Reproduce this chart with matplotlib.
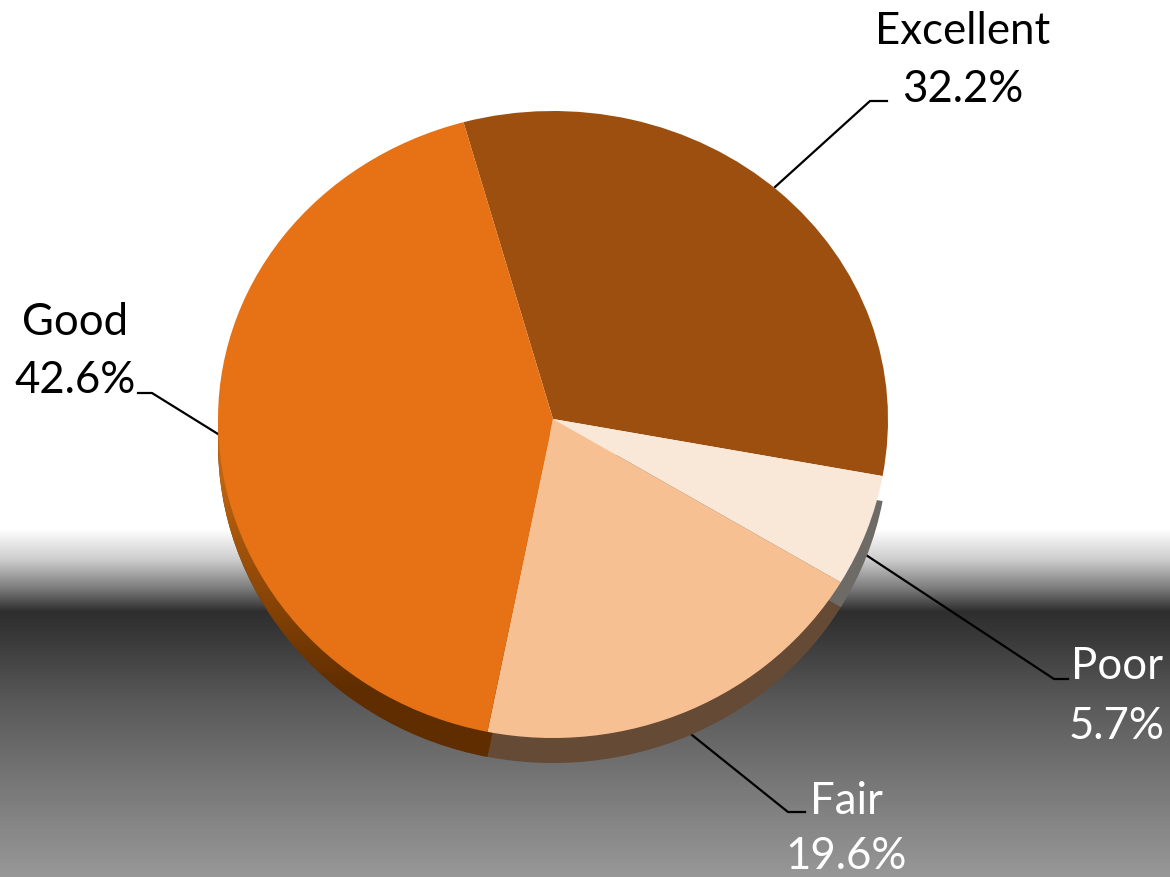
import numpy as np
import matplotlib
matplotlib.use("Agg")
import matplotlib.pyplot as plt
from matplotlib.colors import to_rgb

categories = ["Excellent", "Poor", "Fair", "Good"]
shares = [32.2, 5.7, 19.6, 42.6]
top_colors = ["#9C4F0F", "#F9E7D7", "#F7C093", "#E67215"]
side_colors = ["none", "#6E6A66", "#654A35", "#6B3200"]

W, H = 1170, 878
plt.rcParams["font.family"] = ["Lato", "DejaVu Sans"]
fig = plt.figure(figsize=(W / 100, H / 100), dpi=100)

bg = fig.add_axes([0, 0, 1, 1])
bg.set_xlim(0, W)
bg.set_ylim(H, 0)
bg.axis("off")
ys = np.arange(H)
grey = np.interp(ys, [0, 530, 560, 590, 612, 640, 700, 780, 878],
                 [255, 255, 205, 120, 46, 58, 88, 118, 152]) / 255
bg.imshow(np.dstack([grey, grey, grey]).reshape(H, 1, 3), extent=[0, W, H, 0],
          aspect="auto", interpolation="bilinear", zorder=0)
bg.set_xlim(0, W)
bg.set_ylim(H, 0)

leaders = {
    "Excellent": ([887, 870, 775], [102, 102, 188]),
    "Good": ([138, 152, 218], [394, 394, 435]),
    "Poor": ([1068, 1054, 866], [680, 680, 556]),
    "Fair": ([805, 788, 692], [813, 813, 736]),
}
label_pos = {
    "Excellent": (963, 32, 90, "black"),
    "Good": (75, 323, 381, "black"),
    "Poor": (1117, 667, 727, "white"),
    "Fair": (846, 802, 857, "white"),
}
for name, (xs_, ys_) in leaders.items():
    bg.plot(xs_, ys_, color="black", lw=1.6, zorder=1)
for name, share in zip(categories, shares):
    x, y1, y2, c = label_pos[name]
    bg.text(x, y1, name, color=c, fontsize=31.5, ha="center", va="center")
    bg.text(x, y2, f"{share}%", color=c, fontsize=31.5, ha="center", va="center")

# The pie is seen in perspective: its apex is nearer the top edge than the bottom edge.
CX, CY, RX, R_UP, R_DOWN, DEPTH = 553, 420, 335, 308, 319, 25
START = 105.5


def fwd(y):
    y = np.asarray(y, dtype=float)
    return np.where(y >= 0, y * R_UP, y * R_DOWN)


def inv(v):
    v = np.asarray(v, dtype=float)
    return np.where(v >= 0, v / R_UP, v / R_DOWN)


def pie_axes(dy):
    ax = fig.add_axes([(CX - RX) / W, 1 - (CY + dy + R_DOWN) / H,
                       2 * RX / W, (R_UP + R_DOWN) / H])
    ax.patch.set_alpha(0)
    return ax


def draw_pie(ax, colors):
    wedges, _ = ax.pie(shares, colors=colors, startangle=START, counterclock=False,
                       radius=1, center=(0, 0), wedgeprops={"linewidth": 0})
    ax.set_aspect("auto")
    ax.set_xlim(-1, 1)
    ax.set_yscale("function", functions=(fwd, inv))
    ax.set_ylim(-1, 1)
    ax.axis("off")
    return wedges


side = pie_axes(DEPTH)
side_wedges = draw_pie(side, side_colors)

# Good's side wall darkens towards the bottom.
overlay = fig.add_axes([0, 0, 1, 1])
overlay.patch.set_alpha(0)
overlay.axis("off")
t = np.clip((ys - 480) / 210, 0, 1).reshape(-1, 1, 1)
ramp = (1 - t) * np.array(to_rgb("#C0640F")) + t * np.array(to_rgb("#5F2D00"))
im = overlay.imshow(ramp, extent=[0, W, H, 0], aspect="auto", zorder=2)
overlay.set_xlim(0, W)
overlay.set_ylim(H, 0)
im.set_clip_path(side_wedges[3])

top = pie_axes(0)
draw_pie(top, top_colors)

fig.savefig("out.png", dpi=100)
